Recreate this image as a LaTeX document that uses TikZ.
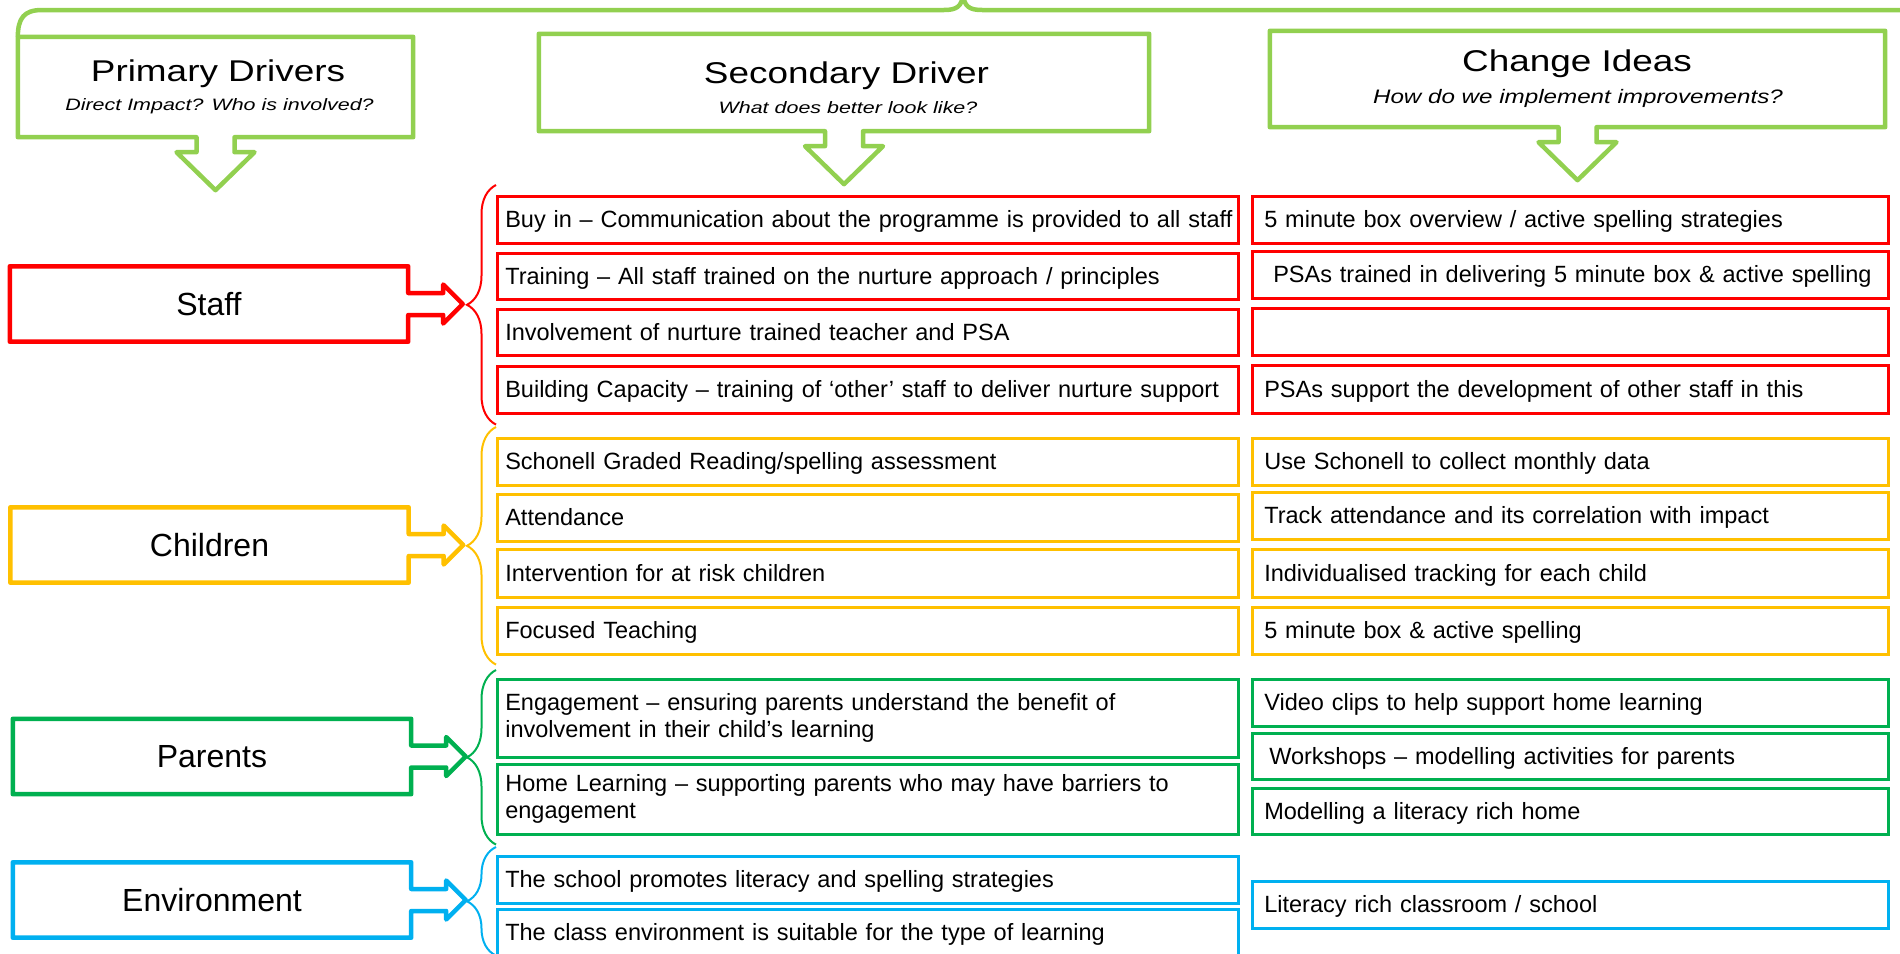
\documentclass[tikz,border=0pt]{standalone}
\usepackage{fontspec}
\setmainfont{Liberation Sans}
\usepackage{graphicx}
\usetikzlibrary{decorations.pathreplacing}

\definecolor{hdgreen}{HTML}{92D050}
\definecolor{stred}{HTML}{FF0000}
\definecolor{chgold}{HTML}{FFC000}
\definecolor{pagreen}{HTML}{00B050}
\definecolor{enblue}{HTML}{00B0F0}

% header box with a block arrow pointing down
\newcommand{\hdbox}[1]{%
  \draw[hdline] (#1.north west) -- (#1.north east) -- (#1.south east)
    -- ([xshift=19pt]#1.south) -- ++(0,15) -- ++(20,0) -- ++(-39,38)
    -- ++(-39,-38) -- ++(20,0) -- ++(0,-15) -- (#1.south west) -- cycle;}
% driver box with a block arrow pointing right
\newcommand{\drvbox}[2]{%
  \draw[drvline, draw=#2] (#1.north west) -- (#1.north east) -- ([yshift=11pt]#1.east)
    -- ++(35,0) -- ++(0,-8.5) -- ++(19.5,19.5) -- ++(-19.5,19.5) -- ++(0,-8.5)
    -- ([yshift=-11pt]#1.east) -- (#1.south east) -- (#1.south west) -- cycle;}

\begin{document}
\begin{tikzpicture}[x=1pt, y=-1pt,
  hdline/.style={draw=hdgreen, line width=4.5pt, line join=round},
  drvline/.style={line width=4.5pt, line join=round},
  hdtitle/.style={anchor=base, font=\fontsize{30}{36}\selectfont},
  hdsub/.style={anchor=base, font=\fontsize{16.5}{20}\selectfont\itshape},
  drv/.style={minimum width=398pt, minimum height=75pt, inner sep=0pt, font=\fontsize{32}{38}\selectfont},
  tbox/.style={anchor=north west, line width=2.6pt, minimum height=47pt, inner ysep=0pt, align=left, font=\fontsize{23.5}{27}\selectfont},
  sec2/.style={tbox, minimum width=741pt, inner xsep=8pt, text width=725pt},
  sec/.style={sec2, text height=21.3pt, text depth=5pt},
  idea/.style={tbox, minimum width=636pt, inner xsep=12pt, text width=612pt, text height=21.3pt, text depth=5pt},
  brc/.style={decorate, decoration={brace, amplitude=29pt}, line width=2pt}]
 \useasboundingbox (0,0) rectangle (1900,953);
 \clip (0,0) rectangle (1900,953);

 % column heads
 \node[minimum width=395pt, minimum height=100pt] (prim) at (215.5,87) {};
 \node[minimum width=610pt, minimum height=97pt] (sec) at (844,82.5) {};
 \node[minimum width=615pt, minimum height=96pt] (ideas) at (1577.5,79) {};
 \hdbox{prim} \hdbox{sec} \hdbox{ideas}
 \node[hdtitle] (prim-t) at (218,81) {\scalebox{1.23}[1]{Primary Drivers}};
 \node[hdsub] (prim-s) at (219.5,110) {\scalebox{1.3}[1]{Direct Impact? Who is involved?}};
 \node[hdtitle] (sec-t) at (846.5,83) {\scalebox{1.23}[1]{Secondary Driver}};
 \node[hdsub] (sec-s) at (848,113.5) {\scalebox{1.3}[1]{What does better look like?}};
 \node[hdtitle] (ideas-t) at (1577,71.5) {\scalebox{1.23}[1]{Change Ideas}};
 \node[hdsub, font=\fontsize{19.5}{23}\selectfont\itshape] (ideas-s) at (1578,103) {\scalebox{1.24}[1]{How do we implement improvements?}};
 \draw[hdline] (prim.north west) .. controls (18,18) and (24,10) .. (42,10) -- (944,10)
   .. controls (956,10) and (962,7) .. (963,-6) .. controls (964,7) and (970,10) .. (982,10) -- (1910,10);

 % staff
 \node[drv] (staff) at (209,304) {Staff};
 \drvbox{staff}{stred}
 \node[sec, draw=stred] (s1) at (496,195) {\mbox{Buy in – Communication about the programme is provided to all staff}};
 \node[sec, draw=stred, minimum height=46pt] (s2) at (496,252) {Training – All staff trained on the nurture approach / principles};
 \node[sec, draw=stred, minimum height=46pt] (s3) at (496,308) {Involvement of nurture trained teacher and PSA};
 \node[sec, draw=stred] (s4) at (496,365) {Building Capacity – training of ‘other’ staff to deliver nurture support};
 \node[idea, draw=stred] (sa) at (1251,195) {5 minute box overview / active spelling strategies};
 \node[idea, draw=stred] (sb) at (1251,250) {\hspace*{9pt}PSAs trained in delivering 5 minute box \& active spelling};
 \node[idea, draw=stred] (sc) at (1251,307) {};
 \node[idea, draw=stred, minimum height=48pt] (sd) at (1251,364) {PSAs support the development of other staff in this};
 \draw[brc, stred] ([yshift=-10pt]s4.south west) -- ([yshift=10pt]s1.north west);

 % children
 \node[drv] (children) at (209.5,545) {Children};
 \drvbox{children}{chgold}
 \node[sec, draw=chgold] (c1) at (496,437) {Schonell Graded Reading/spelling assessment};
 \node[sec, draw=chgold] (c2) at (496,493) {Attendance};
 \node[sec, draw=chgold, minimum height=48pt] (c3) at (496,548) {Intervention for at risk children};
 \node[sec, draw=chgold] (c4) at (496,606) {Focused Teaching};
 \node[idea, draw=chgold] (ca) at (1251,437) {Use Schonell to collect monthly data};
 \node[idea, draw=chgold] (cb) at (1251,491) {Track attendance and its correlation with impact};
 \node[idea, draw=chgold, minimum height=48pt] (cc) at (1251,548) {Individualised tracking for each child};
 \node[idea, draw=chgold] (cd) at (1251,606) {5 minute box \& active spelling};
 \draw[brc, chgold] ([yshift=-9pt]c4.south west) -- ([yshift=10pt]c1.north west);

 % parents
 \node[drv] (parents) at (212,756.5) {Parents};
 \drvbox{parents}{pagreen}
 \node[sec2, draw=pagreen, minimum height=78pt] (p1) at (496,678) {Engagement – ensuring parents understand the benefit of\\involvement in their child’s learning};
 \node[sec2, draw=pagreen, minimum height=70pt] (p2) at (496,763) {Home Learning – supporting parents who may have barriers to\\engagement};
 \node[idea, draw=pagreen] (pa) at (1251,678) {Video clips to help support home learning};
 \node[idea, draw=pagreen, minimum height=46pt] (pb) at (1251,732) {\hspace*{5pt}Workshops – modelling activities for parents};
 \node[idea, draw=pagreen, minimum height=46pt] (pc) at (1251,787) {Modelling a literacy rich home};
 \draw[brc, pagreen] ([yshift=-9pt]p2.south west) -- ([yshift=8pt]p1.north west);

 % environment
 \node[drv] (env) at (212,900) {Environment};
 \drvbox{env}{enblue}
 \node[sec, draw=enblue] (e1) at (496,855) {The school promotes literacy and spelling strategies};
 \node[sec, draw=enblue] (e2) at (496,908) {The class environment is suitable for the type of learning};
 \node[idea, draw=enblue] (ea) at (1251,880) {Literacy rich classroom / school};
 \draw[brc, enblue] ([yshift=2pt]e2.south west) -- ([yshift=8pt]e1.north west);
\end{tikzpicture}
\end{document}
